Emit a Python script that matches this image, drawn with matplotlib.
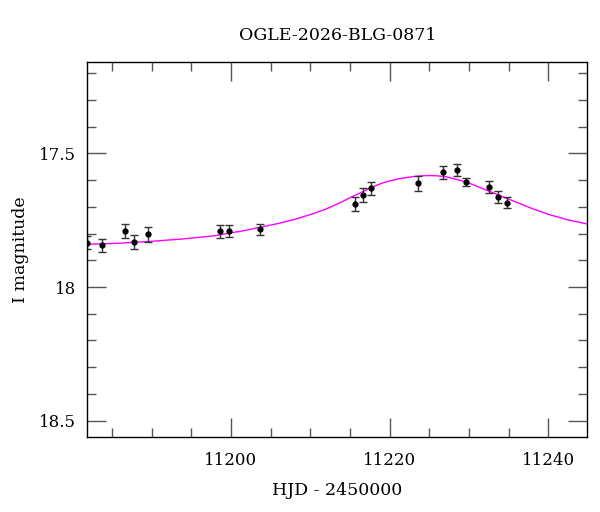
import matplotlib
matplotlib.use('Agg')
import matplotlib.pyplot as plt
from matplotlib.ticker import MultipleLocator

# ============================================================
# OGLE light curve with model fit
# ============================================================

title = 'OGLE-2026-BLG-0871'

# photometry (HJD - 2450000, I mag, error)
hjd = [11181.9, 11183.7, 11186.6, 11187.8, 11189.6,
       11198.6, 11199.7, 11203.7,
       11215.6, 11216.6, 11217.6, 11223.6, 11226.7, 11228.5,
       11229.6, 11232.5, 11233.7, 11234.8]
mag = [17.834, 17.844, 17.792, 17.833, 17.803,
       17.792, 17.789, 17.784,
       17.688, 17.655, 17.631, 17.612, 17.571, 17.561,
       17.607, 17.626, 17.663, 17.685]
err = [0.024, 0.024, 0.026, 0.026, 0.028,
       0.025, 0.022, 0.021,
       0.026, 0.026, 0.024, 0.029, 0.024, 0.022,
       0.016, 0.024, 0.021, 0.021]

# model curve
model_hjd = [11181.9, 11186.0, 11190.0, 11194.0, 11198.0, 11202.0, 11206.0,
             11208.0, 11210.0, 11212.0, 11213.0, 11214.0, 11215.0, 11216.0,
             11217.0, 11218.0, 11219.0, 11220.0, 11221.0, 11222.0, 11223.0,
             11224.0, 11225.0, 11226.0, 11227.0, 11228.0, 11229.0, 11230.0,
             11231.0, 11232.0, 11233.0, 11234.0, 11236.0, 11238.0, 11240.0,
             11242.5, 11244.9]
model_mag = [17.840, 17.836, 17.829, 17.820, 17.808, 17.787, 17.762,
             17.747, 17.729, 17.708, 17.695, 17.681, 17.666, 17.652,
             17.638, 17.624, 17.612, 17.603, 17.596, 17.591, 17.587,
             17.584, 17.583, 17.584, 17.587, 17.594, 17.602, 17.611,
             17.623, 17.635, 17.647, 17.659, 17.683, 17.707, 17.728,
             17.749, 17.764]

plt.rcParams['font.family'] = 'DejaVu Serif'

fig = plt.figure(figsize=(6.0, 5.12), dpi=100)
ax = fig.add_axes([0.1455, 0.147, 0.833, 0.731])

ax.plot(model_hjd, model_mag, color='magenta', lw=1.0, zorder=1)
ax.errorbar(hjd, mag, yerr=err, fmt='o', color='black', ms=3.5,
            ecolor='#333333', elinewidth=1.0, capsize=2.6, capthick=1.0, zorder=2)

ax.set_xlim(11181.9, 11244.9)
ax.set_ylim(18.56, 17.16)

ax.xaxis.set_major_locator(MultipleLocator(20))
ax.xaxis.set_minor_locator(MultipleLocator(5))
ax.yaxis.set_major_locator(MultipleLocator(0.5))
ax.yaxis.set_minor_locator(MultipleLocator(0.1))
ax.yaxis.set_major_formatter(plt.FuncFormatter(lambda v, p: f'{v:g}'))

ax.tick_params(which='both', direction='in', top=True, right=True,
               color='#555555', width=1.0, labelsize=12)
ax.tick_params(which='major', length=14)
ax.tick_params(axis='x', which='major', pad=11)
ax.tick_params(axis='y', which='major', pad=8)
ax.tick_params(which='minor', length=6.7)
for s in ax.spines.values():
    s.set_linewidth(1.0)

ax.set_xlabel('HJD - 2450000', fontsize=12.5, labelpad=9)
ax.set_ylabel('I magnitude', fontsize=12.5, labelpad=7)
ax.set_title(title, fontsize=12.5, pad=16)

plt.savefig('out.png', dpi=100)
plt.close()
